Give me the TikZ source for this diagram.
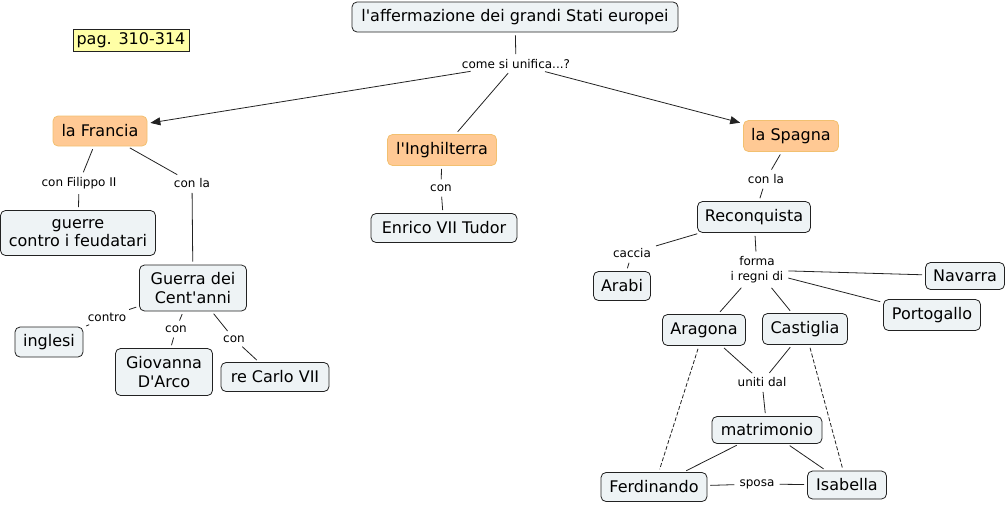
\documentclass[tikz,border=0pt]{standalone}
\usepackage{fontspec}
\setmainfont{DejaVu Sans}
\usetikzlibrary{arrows.meta}
\definecolor{cfill}{HTML}{EEF3F5}
\definecolor{cdraw}{HTML}{222222}
\definecolor{ofill}{HTML}{FFC994}
\definecolor{odraw}{HTML}{F2C070}
\definecolor{yfill}{HTML}{FFFFA6}
\newcommand\ap{\textquotesingle}
\tikzset{
  concept/.style={draw=cdraw, fill=cfill, rounded corners=5pt, line width=0.8pt, align=center,
    font=\fontsize{16}{18.5}\selectfont, inner sep=0pt},
  orange/.style={draw=odraw, fill=ofill, rounded corners=5pt, line width=0.8pt, align=center,
    font=\fontsize{16}{18.5}\selectfont, inner sep=0pt},
  lab/.style={font=\fontsize{12}{14}\selectfont, align=center, inner sep=2pt, fill=white},
  link/.style={line width=0.8pt, draw=cdraw, shorten <=3pt, shorten >=3pt},
  dlink/.style={link, dashed, dash pattern=on 4pt off 2pt},
  arr/.style={link, -{Triangle[length=10pt,width=8pt]}}
}
\begin{document}
\begin{tikzpicture}[x=1pt,y=-1pt]
\useasboundingbox (0,0) rectangle (1007,504);
\node[concept, minimum width=326pt, minimum height=30pt] (title) at (515,17) {l\ap affermazione dei grandi Stati europei};
\node[draw=cdraw, fill=yfill, line width=0.8pt, font=\fontsize{16}{18.5}\selectfont, minimum width=116pt, minimum height=22pt, inner sep=0pt] (pag) at (131,40) {pag. 310-314};
\node[lab] (come) at (516,64) {come si unifica...?};
\node[orange, minimum width=94pt, minimum height=30pt] (fra) at (100,131) {la Francia};
\node[orange, minimum width=109pt, minimum height=31pt] (ing) at (442,150) {l\ap Inghilterra};
\node[orange, minimum width=95pt, minimum height=31pt] (spa) at (791,136) {la Spagna};
\node[lab] (filippo) at (79,183) {con Filippo II};
\node[lab] (conla1) at (192,183) {con la};
\node[concept, minimum width=155pt, minimum height=45pt] (guerre) at (78,233) {guerre\\contro i feudatari};
\node[concept, minimum width=107pt, minimum height=46pt] (cent) at (193,288) {Guerra dei\\Cent\ap anni};
\node[lab] (contro) at (107,317) {contro};
\node[concept, minimum width=68pt, minimum height=30pt] (ingl) at (49,342) {inglesi};
\node[lab] (con1) at (176,329) {con};
\node[concept, minimum width=97pt, minimum height=47pt] (giov) at (164,372) {Giovanna\\D\ap Arco};
\node[lab] (con2) at (234,339) {con};
\node[concept, minimum width=108pt, minimum height=29pt] (carlo) at (275,377) {re Carlo VII};
\node[lab] (con3) at (441,188) {con};
\node[concept, minimum width=146pt, minimum height=29pt] (enrico) at (444,228) {Enrico VII Tudor};
\node[lab] (conla2) at (766,179) {con la};
\node[concept, minimum width=113pt, minimum height=31pt] (reco) at (754,217) {Reconquista};
\node[lab] (caccia) at (632,253) {caccia};
\node[concept, minimum width=57pt, minimum height=29pt] (arabi) at (622,286) {Arabi};
\node[lab, font=\fontsize{12}{15}\selectfont] (forma) at (757,270) {forma\\i regni di};
\node[concept, minimum width=79pt, minimum height=27pt] (nav) at (965,276) {Navarra};
\node[concept, minimum width=97pt, minimum height=31pt] (por) at (932,315) {Portogallo};
\node[concept, minimum width=83pt, minimum height=31pt] (ara) at (704,330) {Aragona};
\node[concept, minimum width=85pt, minimum height=31pt] (cas) at (805,329) {Castiglia};
\node[lab] (uniti) at (762,382) {uniti dal};
\node[concept, minimum width=110pt, minimum height=27pt] (matr) at (767,430) {matrimonio};
\node[concept, minimum width=106pt, minimum height=29pt] (ferd) at (654,487) {Ferdinando};
\node[lab] (sposa) at (757,484) {sposa};
\node[concept, minimum width=79pt, minimum height=28pt] (isa) at (847,485) {Isabella};

\draw[link] (title) -- (come);
\draw[arr] (come) -- (fra);
\draw[link] (come) -- (ing);
\draw[arr] (come) -- (spa);
\draw[link] (fra) -- (filippo);
\draw[link] (filippo) -- (guerre);
\draw[link] (fra) -- (conla1);
\draw[link] (conla1) -- (cent);
\draw[link] (cent) -- (contro);
\draw[link] (contro) -- (ingl);
\draw[link] (cent) -- (con1);
\draw[link] (con1) -- (giov);
\draw[link] (cent) -- (con2);
\draw[link] (con2) -- (carlo);
\draw[link] (ing) -- (con3);
\draw[link] (con3) -- (enrico);
\draw[link] (spa) -- (conla2);
\draw[link] (conla2) -- (reco);
\draw[link] (reco) -- (caccia);
\draw[link] (caccia) -- (arabi);
\draw[link] (reco) -- (forma);
\draw[link] (forma) -- (nav);
\draw[link] (forma) -- (por);
\draw[link] (forma) -- (ara);
\draw[link] (forma) -- (cas);
\draw[link] (ara) -- (uniti);
\draw[link] (cas) -- (uniti);
\draw[link] (uniti) -- (matr);
\draw[link] (matr) -- (ferd);
\draw[link] (matr) -- (isa);
\draw[link] (ferd) -- (sposa);
\draw[link] (sposa) -- (isa);
\draw[dlink] (ara) -- (ferd);
\draw[dlink] (cas) -- (isa);
\end{tikzpicture}
\end{document}
